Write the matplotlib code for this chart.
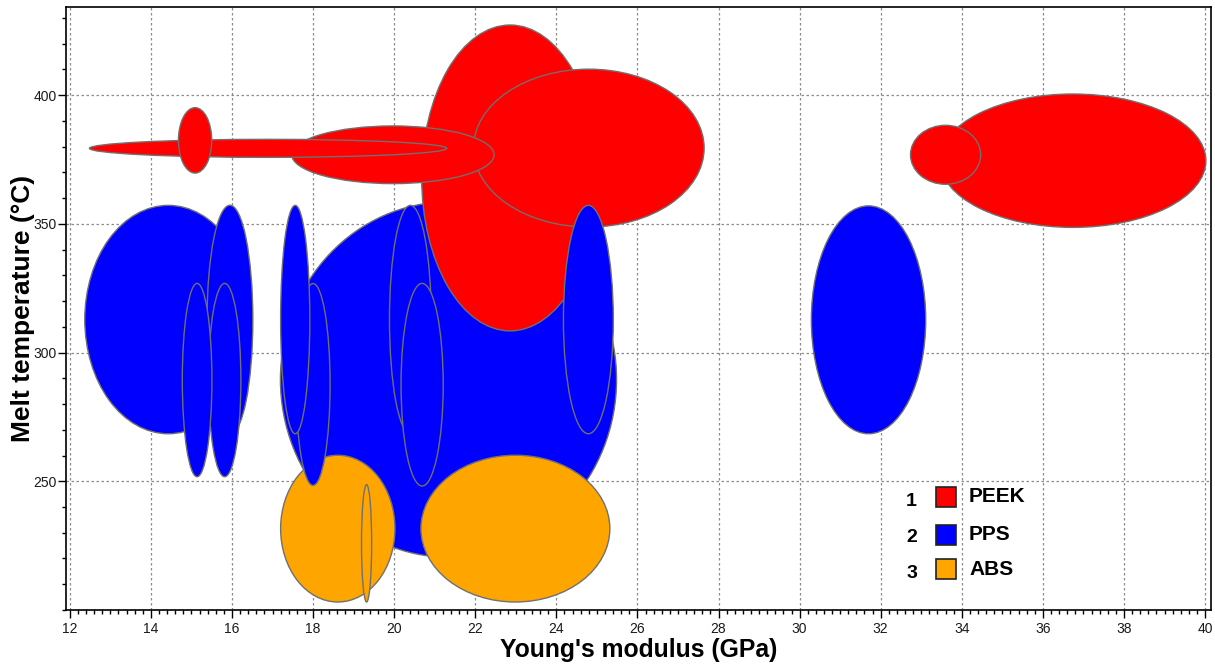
import matplotlib
matplotlib.use("Agg")
import matplotlib.pyplot as plt
from matplotlib.patches import Ellipse, Rectangle
from matplotlib.ticker import MultipleLocator, FixedLocator

plt.rcParams['font.family'] = ['Liberation Sans', 'DejaVu Sans']

materials = ["PEEK", "PPS", "ABS"]
colors = ["#FF0000", "#0000FF", "#FFA500"]

# PEEK ellipses: centre (modulus, melt T), full width (GPa), full height (°C)
peek_x = [16.89, 15.09, 19.97, 22.86, 24.80, 33.60, 36.74]
peek_y = [379.3, 382.4, 376.8, 367.8, 379.4, 376.8, 374.5]
peek_w = [8.81, 0.82, 4.99, 4.36, 5.69, 1.73, 6.56]
peek_h = [7.0, 25.4, 22.4, 118.8, 61.3, 22.9, 51.8]

# PPS ellipses
pps_x = [14.43, 15.95, 15.14, 15.82, 17.56, 18.00, 21.34, 20.40, 20.69, 24.79, 31.70]
pps_y = [312.8, 312.7, 289.3, 289.3, 312.8, 287.6, 289.5, 312.8, 287.5, 312.8, 312.7]
pps_w = [4.12, 1.13, 0.73, 0.80, 0.72, 0.84, 8.29, 1.03, 1.04, 1.23, 2.82]
pps_h = [88.7, 89.0, 75.1, 75.1, 88.7, 78.4, 138.0, 88.7, 78.7, 88.7, 88.5]

# ABS ellipses
abs_x = [18.61, 19.32, 22.99]
abs_y = [231.6, 225.9, 231.6]
abs_w = [2.82, 0.25, 4.66]
abs_h = [57.0, 45.6, 57.0]

x_ticks = list(range(12, 41, 2))
y_ticks = [250, 300, 350, 400]

fig = plt.figure(figsize=(12.15, 6.66), dpi=100)
ax = fig.add_axes([0.0541, 0.0841, 0.9424, 0.9054])

groups = [(peek_x, peek_y, peek_w, peek_h, colors[0]),
          (pps_x, pps_y, pps_w, pps_h, colors[1]),
          (abs_x, abs_y, abs_w, abs_h, colors[2])]
items = []
for xs, ys, ws, hs, c in groups:
    for x, y, w, h in zip(xs, ys, ws, hs):
        items.append((w * h, x, y, w, h, c))
items.sort(key=lambda t: -t[0])
for z, (area, x, y, w, h, c) in enumerate(items):
    ax.add_patch(Ellipse((x, y), w, h, facecolor=c, edgecolor="#707070",
                         linewidth=1.0, zorder=2 + z * 0.01))

ax.set_xlim(11.9, 40.14)
ax.set_ylim(200, 434.2)

ax.xaxis.set_major_locator(FixedLocator(x_ticks))
ax.xaxis.set_minor_locator(MultipleLocator(0.2))
ax.yaxis.set_major_locator(FixedLocator(y_ticks))
ax.yaxis.set_minor_locator(MultipleLocator(10))

ax.grid(True, which="major", color="#8c8c8c", linestyle=(0, (2, 2)), linewidth=0.9, zorder=1)
ax.set_axisbelow(True)

ax.tick_params(axis="both", which="major", direction="out", length=6, width=1,
               labelsize=10, color="black", labelcolor="#1a1a1a")
ax.tick_params(axis="both", which="minor", direction="out", length=3.2, width=1, color="black")
ax.tick_params(axis="x", pad=2.5)
ax.tick_params(axis="y", pad=0.5)

for s in ax.spines.values():
    s.set_linewidth(1.2)
    s.set_color("black")

ax.set_xlabel("Young's modulus (GPa)", fontsize=17.8, fontweight="bold", labelpad=1.5)
ax.set_ylabel("Melt temperature (°C)", fontsize=19, fontweight="bold", labelpad=-1.5)

# custom numbered legend
sq_x = 0.760
sq_w = 0.0175
sq_h = 0.0332
sq_y0 = [0.1703, 0.1078, 0.0509]
num_y = [0.1796, 0.1194, 0.0609]
lab_y = [0.1879, 0.1244, 0.0675]
for i, (m, c) in enumerate(zip(materials, colors)):
    ax.add_patch(Rectangle((sq_x, sq_y0[i]), sq_w, sq_h, transform=ax.transAxes,
                           facecolor=c, edgecolor="#222222", linewidth=1.2, zorder=10))
    ax.text(0.7388, num_y[i], str(i + 1), transform=ax.transAxes, fontsize=14,
            fontweight="bold", ha="center", va="center", zorder=10)
    ax.text(0.7889, lab_y[i], m, transform=ax.transAxes, fontsize=15,
            fontweight="bold", ha="left", va="center", zorder=10)

fig.savefig("out.png", dpi=100)
